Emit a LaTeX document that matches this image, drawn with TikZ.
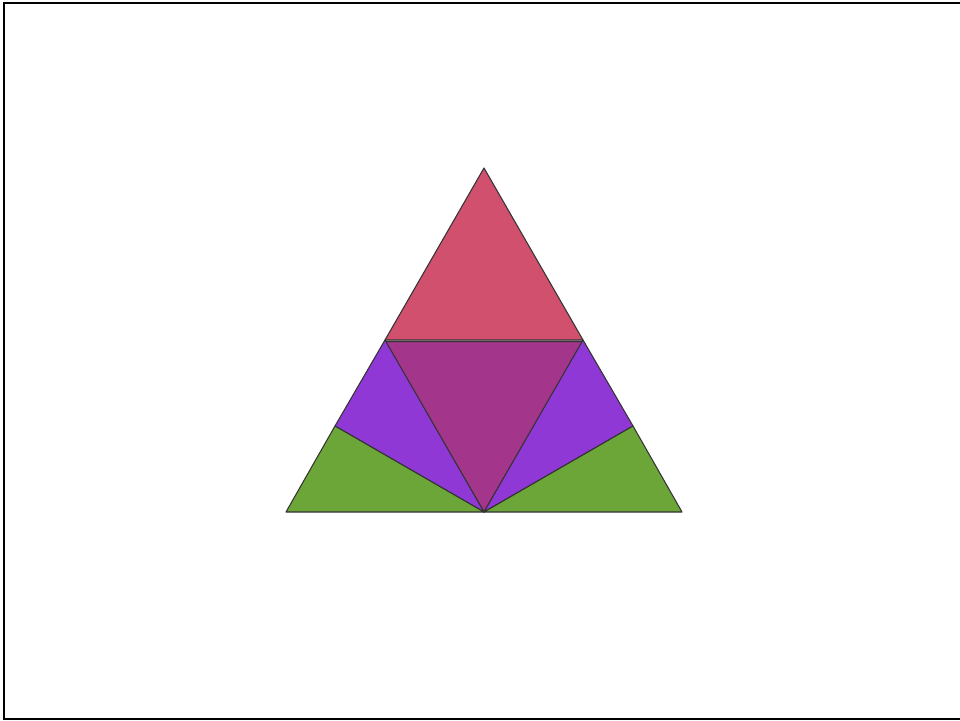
\documentclass[tikz,border=0pt]{standalone}
\usepackage{tikz}
\usetikzlibrary{calc}

\definecolor{topred}{RGB}{208,80,110}
\definecolor{midplum}{RGB}{163,53,139}
\definecolor{sideviolet}{RGB}{143,56,214}
\definecolor{basegreen}{RGB}{108,166,56}

\begin{document}
\begin{tikzpicture}[x=0.01cm, y=-0.01cm,
    piece/.style={draw=black!80, line width=0.3pt, line join=round},
    frame/.style={draw=black, line width=0.6pt}
]
\useasboundingbox (0,0) rectangle (960,721);
\draw[frame] (4,3) rectangle (970,719);

% corner points of the big triangle and its subdivisions
\coordinate (T) at (484,168);
\coordinate (BL) at (286,512);
\coordinate (BR) at (682,512);
\coordinate (BM) at (484,512);
\coordinate (ML) at (385,340);
\coordinate (MR) at (583,340);
\coordinate (QL) at (335,426);
\coordinate (QR) at (633,426);

\filldraw[piece, fill=topred] (T) -- (MR) -- (ML) -- cycle;
\filldraw[piece, fill=midplum] ($(ML)+(0,1.5)$) -- ($(MR)+(0,1.5)$) -- (BM) -- cycle;
\filldraw[piece, fill=sideviolet] (ML) -- (BM) -- (QL) -- cycle;
\filldraw[piece, fill=sideviolet] (MR) -- (QR) -- (BM) -- cycle;
\filldraw[piece, fill=basegreen] (QL) -- (BM) -- (BL) -- cycle;
\filldraw[piece, fill=basegreen] (QR) -- (BR) -- (BM) -- cycle;
\end{tikzpicture}
\end{document}
